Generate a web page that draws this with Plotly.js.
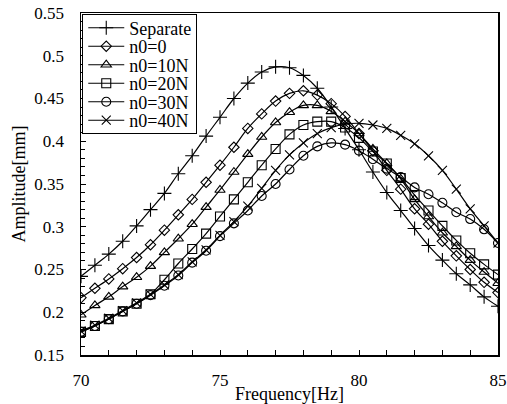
<!DOCTYPE html>
<html>
<head>
<meta charset="utf-8">
<script src="https://cdn.plot.ly/plotly-3.0.1.min.js"></script>
<style>html,body{margin:0;padding:0;background:#fff;}#chart{width:507px;height:404px;}</style>
</head>
<body>
<div id="chart"></div>
<script>
const freq = [70,70.5,71,71.5,72,72.5,73,73.5,74,74.5,75,75.5,76,76.5,77,77.5,78,78.5,79,79.5,80,80.5,81,81.5,82,82.5,83,83.5,84,84.5,85];
const separate = [0.242,0.255,0.268,0.283,0.301,0.320,0.339,0.362,0.383,0.406,0.428,0.450,0.468,0.481,0.487,0.486,0.477,0.462,0.440,0.415,0.390,0.364,0.340,0.319,0.298,0.278,0.261,0.245,0.232,0.218,0.207];
const n0_0 = [0.217,0.228,0.239,0.251,0.264,0.279,0.296,0.314,0.332,0.352,0.372,0.393,0.415,0.432,0.447,0.456,0.459,0.454,0.444,0.429,0.409,0.389,0.366,0.344,0.321,0.303,0.283,0.266,0.250,0.235,0.223];
const n0_10 = [0.197,0.208,0.218,0.230,0.241,0.254,0.270,0.286,0.303,0.323,0.343,0.364,0.385,0.405,0.422,0.434,0.442,0.442,0.435,0.423,0.409,0.391,0.374,0.356,0.332,0.312,0.293,0.277,0.261,0.247,0.234];
const n0_20 = [0.177,0.184,0.192,0.201,0.210,0.221,0.238,0.257,0.274,0.292,0.312,0.332,0.352,0.372,0.391,0.408,0.419,0.423,0.423,0.416,0.404,0.388,0.374,0.357,0.337,0.319,0.301,0.284,0.269,0.256,0.244];
const n0_30 = [0.177,0.184,0.192,0.201,0.210,0.220,0.231,0.243,0.258,0.272,0.289,0.304,0.319,0.336,0.350,0.367,0.383,0.394,0.398,0.396,0.389,0.379,0.368,0.358,0.346,0.338,0.328,0.317,0.309,0.297,0.281];
const n0_40 = [0.178,0.185,0.193,0.202,0.211,0.221,0.232,0.244,0.259,0.273,0.290,0.306,0.324,0.345,0.366,0.384,0.398,0.409,0.416,0.420,0.421,0.419,0.415,0.407,0.397,0.383,0.366,0.344,0.321,0.301,0.281];

const names = ['Separate','n0=0','n0=10N','n0=20N','n0=30N','n0=40N'];
const series = [separate, n0_0, n0_10, n0_20, n0_30, n0_40];
const symbols = ['cross-thin-open','diamond-open','triangle-up-open','square-open','circle-open','x-thin-open'];
const sizes = [10,8,9,9,9,9];

const traces = series.map((ys, i) => ({
  x: freq, y: ys, name: names[i], type: 'scatter', mode: 'lines+markers',
  line: {color: '#000', width: 1.2, shape: 'spline', smoothing: 1},
  marker: {symbol: symbols[i], size: sizes[i], color: '#000', line: {color: '#000', width: 1.1}}
}));

const fam = 'Liberation Serif, Times New Roman, serif';
const font = {family: fam, size: 18, color: '#000'};
const tickFont = {family: fam, size: 17, color: '#000'};

const layout = {
  width: 507, height: 404,
  margin: {l: 81, r: 9, t: 13, b: 49},
  paper_bgcolor: '#fff', plot_bgcolor: '#fff',
  font: font,
  showlegend: true,
  legend: {x: 0.003, y: 0.997, xanchor: 'left', yanchor: 'top', bgcolor: '#fff', bordercolor: '#000', borderwidth: 1, font: font, tracegroupgap: 0, itemwidth: 36},
  xaxis: {
    range: [70, 85], dtick: 5, tick0: 70, showgrid: false, zeroline: false,
    showline: true, linecolor: '#000', linewidth: 1.5, mirror: true,
    ticks: 'inside', ticklen: 5, tickcolor: '#000', ticklabelstandoff: 9,
    minor: {dtick: 1, ticks: 'inside', ticklen: 5, tickcolor: '#000', showgrid: false},
    title: {text: 'Frequency[Hz]', font: font, standoff: 0},
    tickfont: tickFont
  },
  yaxis: {
    range: [0.15, 0.55], dtick: 0.05, tick0: 0.15, showgrid: false, zeroline: false,
    showline: true, linecolor: '#000', linewidth: 1.5, mirror: true,
    ticks: 'inside', ticklen: 5, tickcolor: '#000', ticklabelstandoff: 12,
    minor: {dtick: 0.01, ticks: 'inside', ticklen: 4, tickcolor: '#000', showgrid: false},
    title: {text: 'Amplitude[mm]', font: font, standoff: 4},
    tickfont: tickFont
  }
};

Plotly.newPlot('chart', traces, layout, {displayModeBar: false, staticPlot: true}).then(gd => {
  // tighten legend row spacing to match the reference
  const rowH = 18.5, first = 13.7;
  const items = gd.querySelectorAll('.legend .traces');
  items.forEach((g, i) => {
    const m = /translate\(\s*([-\d.]+)[ ,]+([-\d.]+)\s*\)/.exec(g.getAttribute('transform') || '');
    const tx = m ? parseFloat(m[1]) : 1;
    g.setAttribute('transform', 'translate(' + tx + ',' + (first + i * rowH) + ')');
  });
  const bg = gd.querySelector('.legend rect.bg');
  if (bg) bg.setAttribute('height', first + (items.length - 1) * rowH + 13);
});
</script>
</body>
</html>
